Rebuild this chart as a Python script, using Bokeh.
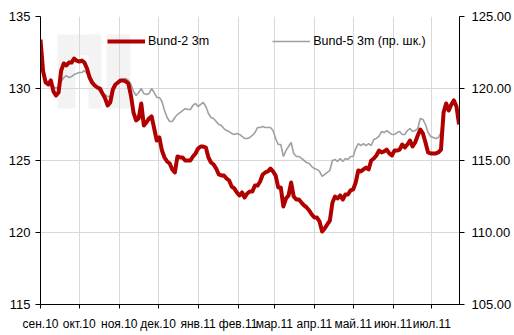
import pandas as pd
from bokeh.plotting import figure
from bokeh.models import (Range1d, LinearAxis, FixedTicker, PrintfTickFormatter,
                          Legend, LegendItem, BoxAnnotation)
from bokeh.embed import file_html
from bokeh.resources import INLINE

# Observation dates: every second calendar day from 1 Sep 2010
start_date = "2010-09-01"
n_obs = 163
step = "2D"

# Bund-2 3m (left scale)
bund2 = [133.4, 131.2, 130.42, 130.28, 130.56, 129.8, 129.51, 129.72, 131.25, 131.74,
         131.6, 131.8, 131.8, 132.08, 131.94, 131.87, 131.94, 131.8, 131.39, 130.76,
         130.42, 130.21, 130.07, 130.0, 129.65, 129.31, 128.82, 129.03, 129.93, 130.28,
         130.42, 130.56, 130.56, 130.49, 130.35, 129.51, 128.33, 127.78, 127.92, 128.96,
         127.43, 127.64, 127.92, 128.06, 127.22, 126.39, 126.6, 125.69, 125.21, 124.93,
         124.79, 124.38, 124.17, 125.28, 125.21, 125.21, 125.0, 125.0, 125.0, 125.28,
         125.49, 125.83, 125.97, 125.97, 125.9, 125.21, 124.86, 124.72, 124.44, 124.03,
         123.96, 123.96, 123.75, 123.61, 123.19, 123.06, 122.78, 122.57, 122.78, 122.43,
         122.71, 122.85, 122.85, 123.26, 123.26, 123.54, 124.03, 124.17, 124.24, 124.44,
         124.24, 123.96, 123.13, 123.13, 121.81, 122.36, 122.57, 123.47, 122.5, 122.29,
         122.29, 122.08, 121.88, 121.74, 121.53, 121.25, 121.04, 121.04, 120.76, 120.07,
         120.28, 120.56, 120.83, 122.08, 122.5, 122.36, 122.57, 122.29, 122.64, 122.64,
         122.92, 122.99, 123.47, 124.31, 124.24, 124.38, 124.51, 124.38, 125.0, 125.14,
         125.35, 125.69, 125.56, 125.63, 125.76, 125.49, 125.35, 125.69, 125.69, 125.76,
         126.11, 125.9, 126.11, 126.39, 125.97, 126.25, 126.74, 127.15, 126.88, 126.25,
         125.56, 125.49, 125.49, 125.49, 125.56, 125.76, 128.33, 128.96, 128.47, 128.89,
         129.17, 128.75, 127.5]

# Bund-5 3m (right scale)
bund5 = [122.64, 121.11, 120.56, 120.42, 120.35, 120.14, 120.0, 120.14, 120.49, 120.76,
         120.9, 120.76, 120.83, 120.97, 121.04, 121.11, 121.11, 121.25, 121.04, 120.63,
         120.28, 120.14, 120.0, 119.79, 119.65, 119.58, 119.44, 119.44, 120.0, 120.28,
         120.49, 120.56, 120.63, 120.69, 120.56, 120.28, 119.79, 119.51, 119.72, 120.0,
         119.65, 119.58, 119.65, 120.0, 119.72, 119.38, 119.38, 119.1, 118.47, 117.99,
         117.71, 117.71, 117.99, 118.19, 118.33, 118.47, 118.61, 118.54, 118.54, 118.82,
         118.96, 118.75, 118.89, 119.03, 118.75, 118.26, 117.99, 117.92, 117.71, 117.5,
         117.43, 117.22, 117.08, 117.01, 116.88, 116.81, 116.88, 116.81, 116.67, 116.53,
         116.53, 116.6, 116.74, 116.94, 117.29, 117.29, 117.36, 117.29, 117.29, 117.29,
         117.08, 116.53, 116.11, 116.11, 115.28, 115.69, 115.97, 116.25, 115.49, 115.28,
         115.28, 115.14, 115.0, 114.86, 114.79, 114.58, 114.44, 114.38, 114.24, 113.89,
         114.03, 114.17, 114.31, 115.0, 115.07, 114.93, 115.14, 114.93, 115.14, 115.07,
         115.28, 115.28, 115.83, 116.18, 116.04, 116.18, 116.04, 116.18, 116.04, 116.46,
         116.53, 116.67, 117.01, 116.94, 117.08, 116.94, 116.81, 116.81, 116.94, 117.01,
         116.81, 116.81, 117.08, 117.22, 117.01, 117.08, 117.22, 117.92, 117.85, 117.5,
         116.94, 116.67, 116.6, 116.53, 116.6, 116.94, 118.33, 118.75, 118.61, 118.96,
         119.24, 118.82, 117.85]

month_labels = ["сен.10", "окт.10", "ноя.10", "дек.10", "янв.11", "фев.11",
                "мар.11", "апр.11", "май.11", "июн.11", "июл.11"]
left_ticks = [115, 120, 125, 130, 135]
right_ticks = [105, 110, 115, 120, 125]

series_names = ["Bund-2 3m", "Bund-5 3m (пр. шк.)"]

RED = "#b00000"
GREY = "#a0a0a0"
FONT = "Liberation Sans"

dates = pd.date_range(start_date, periods=n_obs, freq=step)
month_starts = pd.date_range(start_date, periods=len(month_labels), freq="MS")
month_ms = [float(t.value // 10**6) for t in month_starts]

x_start = pd.Timestamp(start_date)
x_end = pd.Timestamp("2011-07-22 08:00")

p = figure(width=514, height=335, x_axis_type="datetime",
           x_range=Range1d(x_start, x_end), y_range=Range1d(115, 135),
           output_backend="svg", toolbar_location=None,
           min_border_left=40, min_border_right=52,
           min_border_top=16, min_border_bottom=31)
p.extra_y_ranges = {"right": Range1d(105, 125)}
p.outline_line_color = None
p.background_fill_color = "white"
p.border_fill_color = "white"

# faint logo behind the plot (frame-relative pixels, y measured from the bottom)
logo_boxes = [(17, 35, 270, 196), (35, 56, 270, 249), (48, 61, 270, 196), (66, 90, 270, 196)]
for l, r, t, b in logo_boxes:
    p.add_layout(BoxAnnotation(left=l, right=r, top=t, bottom=b,
                               left_units="screen", right_units="screen",
                               top_units="screen", bottom_units="screen",
                               fill_color="#f3f3f3", fill_alpha=1.0,
                               line_color=None, level="image"))

# grids
p.xgrid.ticker = FixedTicker(ticks=month_ms)
p.xgrid.grid_line_color = "#d9d9d9"
p.ygrid.ticker = FixedTicker(ticks=[120, 125, 130])
p.ygrid.grid_line_color = "#d9d9d9"

# bottom axis
xa = p.xaxis[0]
xa.ticker = FixedTicker(ticks=month_ms)
xa.major_label_overrides = {ms: lab for ms, lab in zip(month_ms, month_labels)}
xa.minor_tick_line_color = None
xa.major_tick_in = 0
xa.major_tick_out = 4
xa.major_label_standoff = 8
xa.axis_line_color = "black"
xa.major_tick_line_color = "black"
xa.major_label_text_font = FONT
xa.major_label_text_font_size = "12px"
xa.major_label_text_color = "black"

# left axis
ya = p.yaxis[0]
ya.ticker = FixedTicker(ticks=left_ticks)
ya.minor_tick_line_color = None
ya.major_tick_in = 0
ya.major_tick_out = 5
ya.major_label_standoff = 5
ya.axis_line_color = "black"
ya.major_tick_line_color = "black"
ya.major_label_text_font = FONT
ya.major_label_text_font_size = "13px"
ya.major_label_text_color = "black"

# right axis
ra = LinearAxis(y_range_name="right", ticker=FixedTicker(ticks=right_ticks),
                formatter=PrintfTickFormatter(format="%.2f"))
ra.minor_tick_line_color = None
ra.major_tick_in = 0
ra.major_tick_out = 5
ra.major_label_standoff = 7
ra.axis_line_color = "black"
ra.major_tick_line_color = "black"
ra.major_label_text_font = FONT
ra.major_label_text_font_size = "13px"
ra.major_label_text_color = "black"
p.add_layout(ra, "right")

r5 = p.line(dates, bund5, y_range_name="right", line_color=GREY, line_width=1.6)
r2 = p.line(dates, bund2, line_color=RED, line_width=4, line_join="round")

legend = Legend(items=[LegendItem(label=series_names[0], renderers=[r2]),
                       LegendItem(label=series_names[1], renderers=[r5])],
                orientation="horizontal", location=(67, 253),
                glyph_width=38, glyph_height=20, label_standoff=3, spacing=63,
                padding=0, margin=0, border_line_color=None,
                background_fill_alpha=0.0,
                label_text_font=FONT, label_text_font_size="12.5px",
                label_text_color="black")
p.add_layout(legend)

open("out.html", "w").write(file_html(p, INLINE))
